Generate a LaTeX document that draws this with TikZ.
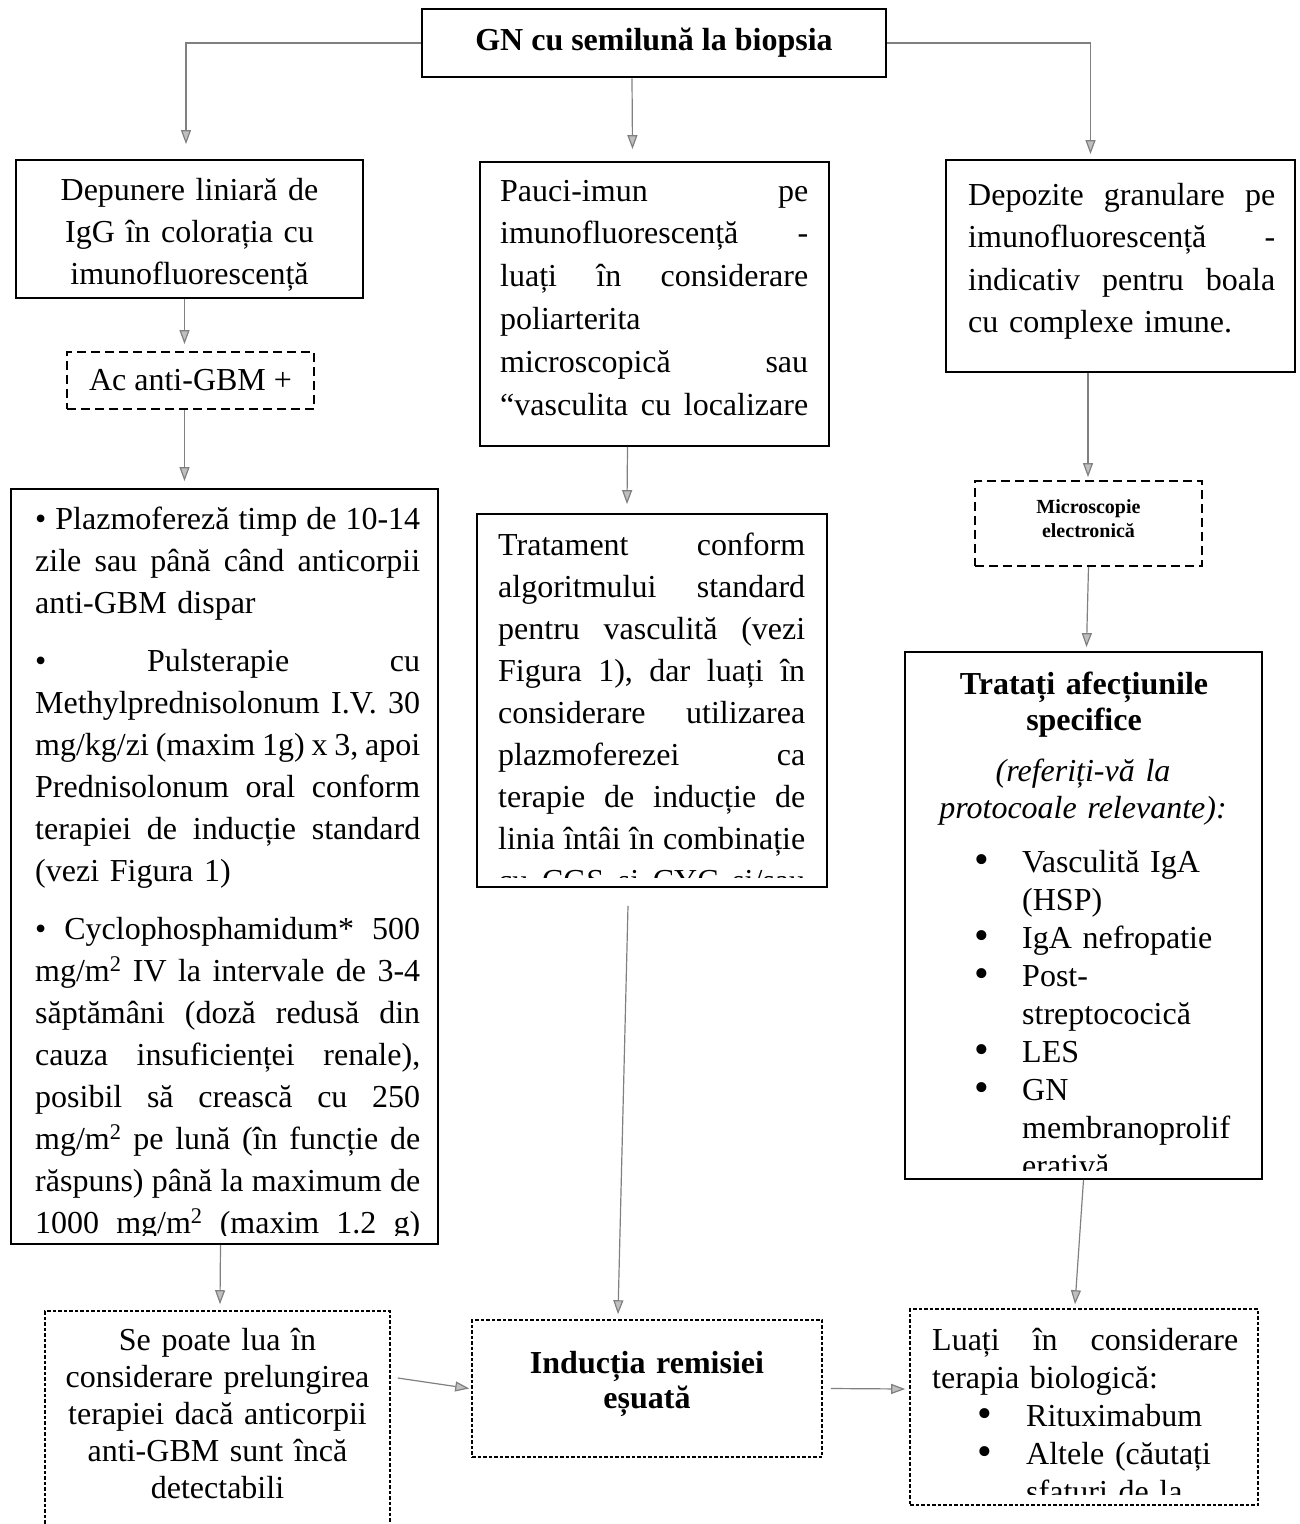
\documentclass[tikz,border=0pt]{standalone}
\usepackage{fontspec}
\setmainfont{Liberation Serif}
\usetikzlibrary{arrows.meta}

\newcommand{\jl}[1]{\leavevmode\hbox to\hsize{\frenchspacing\spaceskip=0.1em plus 1fil\xspaceskip=\spaceskip #1}}
\newcommand{\itm}[1][33pt]{\leavevmode\llap{\raisebox{-1.5pt}{\fontsize{42}{42}\selectfont\textbullet}\hspace{#1}}}

\begin{document}
\begin{tikzpicture}[x=1pt, y=-1pt,
    every node/.style={inner sep=0pt, font=\fontsize{32}{42}\selectfont},
    box/.style={draw, line width=1.8pt},
    dashbox/.style={draw, line width=1.8pt, dash pattern=on 9pt off 5pt},
    dotbox/.style={draw, line width=1.6pt, dash pattern=on 3.5pt off 2pt},
    txt/.style={align=left, anchor=base west},
    ctxt/.style={align=center, anchor=base, text width=340pt},
    arr/.style={draw=gray, line width=1.2pt, -{Triangle[width=10pt, length=14pt, fill=gray!50]}}]

    \useasboundingbox (0,0) rectangle (1300,1524);

    % biopsy
    \node[box, line width=2.8pt, minimum width=464pt, minimum height=68pt, font=\fontsize{32}{42}\selectfont\bfseries] (biopsy) at (654,43) {GN cu semilună la biopsia};

    % left column
    \node[box, minimum width=347pt, minimum height=138pt] (liniar) at (189.5,229) {};
    \node[ctxt] (liniartxt) at (189.5,200) {Depunere liniară de\\IgG în colorația cu\\imunofluorescență};
    \node[dashbox, minimum width=247pt, minimum height=57pt] (antigbm) at (190.5,380.5) {Ac anti-GBM +};
    \node[box, minimum width=427pt, minimum height=755pt] (plasma) at (224.5,866.5) {};
    \begin{scope}
        \clip (13,491) rectangle (436,1235);
        \node[txt, text width=385pt] (plasmatxt) at (35,529) {\jl{• Plazmofereză timp de 10-14}\\
            \jl{zile sau până când anticorpii}\\
            anti-GBM dispar\\[16pt]
            \jl{• Pulsterapie cu}\\
            \jl{Methylprednisolonum I.V. 30}\\
            \jl{mg/kg/zi (maxim 1g) x 3, apoi}\\
            \jl{Prednisolonum oral conform}\\
            \jl{terapiei de inducție standard}\\
            (vezi Figura 1)\\[16pt]
            \jl{• Cyclophosphamidum* 500}\\
            \jl{mg/m\textsuperscript{2} IV la intervale de 3-4}\\
            \jl{săptămâni (doză redusă din}\\
            \jl{cauza insuficienței renale),}\\
            \jl{posibil să crească cu 250}\\
            \jl{mg/m\textsuperscript{2} pe lună (în funcție de}\\
            \jl{răspuns) până la maximum de}\\
            \jl{1000 mg/m\textsuperscript{2} (maxim 1.2 g)}};
    \end{scope}

    % middle column
    \node[box, minimum width=349pt, minimum height=284pt] (pauci) at (654.5,304) {};
    \node[txt, text width=308pt, font=\fontsize{32}{42.8}\selectfont] (paucitxt) at (500,201) {\jl{Pauci-imun pe}\\
        \jl{imunofluorescență -}\\
        \jl{luați în considerare}\\
        poliarterita\\
        \jl{microscopică sau}\\
        \jl{“vasculita cu localizare}};
    \node[box, minimum width=350pt, minimum height=373pt] (tratvasc) at (652,700.5) {};
    \begin{scope}
        \clip (479,516) rectangle (825,877);
        \node[txt, text width=307pt] (tratvasctxt) at (498,555) {\jl{Tratament conform}\\
            \jl{algoritmului standard}\\
            \jl{pentru vasculită (vezi}\\
            \jl{Figura 1), dar luați în}\\
            \jl{considerare utilizarea}\\
            \jl{plazmoferezei ca}\\
            \jl{terapie de inducție de}\\
            \jl{linia întâi în combinație}\\
            \jl{cu CGS și CYC și/sau}};
    \end{scope}

    % right column
    \node[box, minimum width=349pt, minimum height=212pt] (granular) at (1120.5,266) {};
    \node[txt, text width=307pt, font=\fontsize{32}{42.5}\selectfont] (granulartxt) at (968,205) {\jl{Depozite granulare pe}\\
        \jl{imunofluorescență -}\\
        \jl{indicativ pentru boala}\\
        cu complexe imune.};
    \node[dashbox, minimum width=227pt, minimum height=85pt] (micro) at (1088.5,523.5) {};
    \node[ctxt, text width=220pt, font=\fontsize{20}{24}\selectfont\bfseries] (microtxt) at (1088.5,513) {Microscopie\\electronică};
    \node[box, minimum width=357pt, minimum height=527pt] (specific) at (1083.5,915.5) {};
    \begin{scope}
        \clip (907,654) rectangle (1260,1170);
        \node[ctxt, font=\fontsize{32}{36}\selectfont\bfseries] (spectitle) at (1084,694) {Tratați afecțiunile\\specifice};
        \node[ctxt, font=\fontsize{32}{37}\selectfont\itshape] (specref) at (1083,781) {(referiți-vă la\\protocoale relevante):};
        \node[txt, text width=230pt, font=\fontsize{32}{38}\selectfont] (speclist) at (1022,872) {\itm Vasculită IgA\\
            (HSP)\\
            \itm IgA nefropatie\\
            \itm Post-\\
            streptococică\\
            \itm LES\\
            \itm GN\\
            membranoprolif\\
            erativă};
    \end{scope}

    % bottom row
    \node[dotbox, minimum width=345pt, minimum height=234pt] (prelung) at (217.5,1428) {};
    \node[ctxt, font=\fontsize{32}{37}\selectfont] (prelungtxt) at (217.5,1350) {Se poate lua în\\considerare prelungirea\\terapiei dacă anticorpii\\anti-GBM sunt încă\\detectabili};
    \node[dotbox, minimum width=350pt, minimum height=137pt] (esuata) at (647,1388.5) {};
    \node[ctxt, font=\fontsize{32}{35}\selectfont\bfseries] (esuatatxt) at (647,1373) {Inducția remisiei\\eșuată};
    \node[dotbox, minimum width=348pt, minimum height=196pt] (biologic) at (1084,1407) {};
    \begin{scope}
        \clip (912,1311) rectangle (1256,1494);
        \node[txt, text width=306pt, font=\fontsize{32}{38}\selectfont] (biologictxt) at (932,1350) {\jl{Luați în considerare}\\
            terapia biologică:\\
            \hspace*{94pt}\itm[34pt]Rituximabum\\
            \hspace*{94pt}\itm[34pt]Altele (căutați\\
            \hspace*{94pt}sfaturi de la};
    \end{scope}

    % arrows
    \draw[arr] (biopsy.west) -| ([xshift=-3.5pt, yshift=15pt]liniar.north);
    \draw[arr] ([xshift=-22pt]biopsy.south) -- ([xshift=-22pt, yshift=12pt]pauci.north);
    \draw[arr] (biopsy.east) -| ([xshift=-30pt, yshift=5pt]granular.north);
    \draw[arr] ([xshift=-5pt]liniar.south) -- ([xshift=-6pt, yshift=7pt]antigbm.north);
    \draw[arr] ([xshift=-6pt]antigbm.south) -- ([xshift=-40pt, yshift=7pt]plasma.north);
    \draw[arr] ([xshift=-4pt]plasma.south) -- ([xshift=2.5pt, yshift=6pt]prelung.north);
    \draw[arr] ([xshift=-27pt]pauci.south) -- ([xshift=-25pt, yshift=9pt]tratvasc.north);
    \draw[arr] ([xshift=-24pt, yshift=-18pt]tratvasc.south) -- ([xshift=-29pt, yshift=5pt]esuata.north);
    \draw[arr] ([xshift=-32.5pt]granular.south) -- ([xshift=-0.5pt, yshift=3pt]micro.north);
    \draw[arr] (micro.south) -- ([xshift=3pt, yshift=4pt]specific.north);
    \draw[arr] (specific.south) -- ([xshift=-9pt, yshift=4pt]biologic.north);
    \draw[arr] ([xshift=7pt, yshift=50pt]prelung.east) -- ([xshift=-2pt]esuata.west);
    \draw[arr] ([xshift=8pt]esuata.east) -- ([xshift=-4pt, yshift=18pt]biologic.west);

\end{tikzpicture}
\end{document}
